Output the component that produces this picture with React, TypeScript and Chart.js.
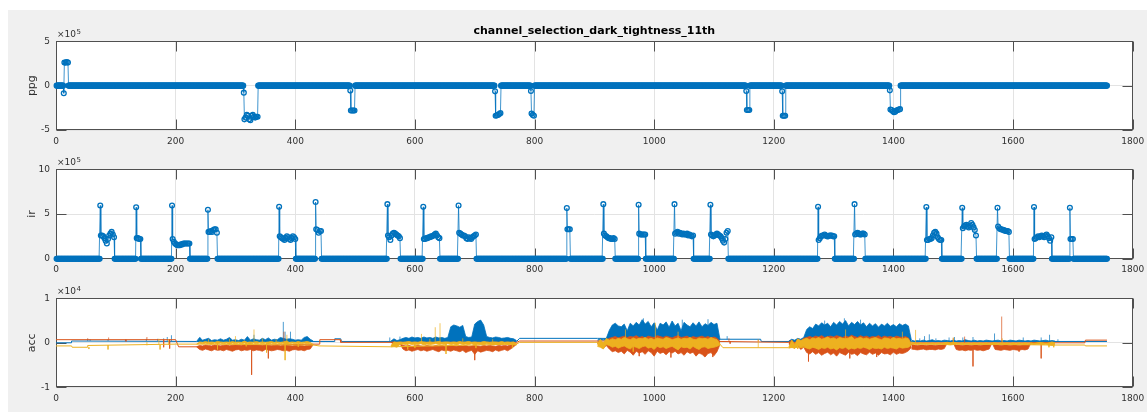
import React, { useEffect, useRef } from "react";
import { Chart, registerables } from "chart.js";

Chart.register(...registerables);

const BLUE = "#0072BD";
const RED = "#D95319";
const YELLOW = "#EDB120";
const AXIS = "#505050";
const GRID = "#e3e3e3";
const TEXT = "#303030";
const FONT = "'DejaVu Sans', 'Liberation Sans', sans-serif";

const TITLE = "channel_selection_dark_tightness_11th";
const xTicks = [0, 200, 400, 600, 800, 1000, 1200, 1400, 1600, 1800];
const ppgTicks = [-5, 0, 5];
const irTicks = [0, 5, 10];
const accTicks = [-1, 0, 1];
const N_SAMPLES = 1757;

// ---------- ppg (units of 1e5) : samples are 0 except these bursts ----------
const ppgSpikeX = [13, 314, 492, 734, 794, 1154, 1214, 1394];
const ppgSpikeY = [-0.86, -0.79, -0.56, -0.64, -0.6, -0.6, -0.64, -0.53];
const ppgBursts = [
  [2.6, 2.6, 2.65, 2.6],
  [-3.8, -3.6, -3.3, -3.4, -3.8, -3.9, -3.4, -3.3, -3.5, -3.6, -3.5, -3.5],
  [-2.8, -2.8, -2.8, -2.8],
  [-3.4, -3.35, -3.3, -3.2, -3.1],
  [-3.15, -3.3, -3.4],
  [-2.75, -2.75, -2.75],
  [-3.4, -3.4, -3.4],
  [-2.7, -2.75, -2.9, -3.0, -2.95, -2.8, -2.75, -2.7, -2.65],
];

// ---------- ir (units of 1e5) ----------
const irSpikeX = [74, 134, 194, 254, 373, 434, 554, 614, 673, 854, 915, 974, 1034, 1094, 1274, 1335, 1455, 1515, 1574, 1635, 1695];
const irSpikeY = [5.95, 5.75, 5.95, 5.47, 5.8, 6.34, 6.1, 5.8, 5.95, 5.66, 6.1, 6.03, 6.1, 6.03, 5.8, 6.1, 5.78, 5.7, 5.7, 5.78, 5.7];
const irBursts = [
  [2.6, 2.6, 2.5, 2.3, 2.0, 1.7, 2.2, 2.6, 2.8, 3.0, 2.7, 2.4],
  [2.3, 2.3, 2.2, 2.2],
  [2.2, 1.9, 1.7, 1.6, 1.5, 1.5, 1.5, 1.6, 1.6, 1.7, 1.7, 1.7, 1.7, 1.7, 1.7],
  [3.0, 3.0, 3.1, 3.0, 3.2, 3.3, 3.3, 2.9],
  [2.5, 2.4, 2.3, 2.2, 2.1, 2.3, 2.5, 2.4, 2.2, 2.1, 2.3, 2.5, 2.4, 2.2],
  [3.3, 3.2, 2.9, 3.1, 3.1],
  [2.6, 2.4, 2.1, 2.6, 2.8, 2.9, 2.8, 2.7, 2.6, 2.5, 2.3],
  [2.2, 2.2, 2.3, 2.3, 2.4, 2.4, 2.5, 2.5, 2.6, 2.7, 2.8, 2.6, 2.4, 2.3],
  [2.9, 2.8, 2.7, 2.6, 2.6, 2.5, 2.3, 2.2, 2.4, 2.3, 2.2, 2.4, 2.5, 2.6, 2.7],
  [3.3, 3.3, 3.3],
  [2.8, 2.6, 2.5, 2.4, 2.3, 2.3, 2.2, 2.2, 2.3, 2.2],
  [2.8, 2.7, 2.7, 2.7, 2.7, 2.7],
  [2.8, 2.9, 3.0, 2.8, 2.9, 2.8, 2.7, 2.8, 2.7, 2.7, 2.8, 2.6, 2.7, 2.6, 2.5, 2.6],
  [2.7, 2.6, 2.5, 2.6, 2.7, 2.8, 2.7, 2.6, 2.5, 2.3, 2.0, 1.8, 2.2, 2.9, 3.1],
  [2.1, 2.3, 2.5, 2.6, 2.6, 2.7, 2.6, 2.5, 2.5, 2.6, 2.6, 2.6, 2.5, 2.5],
  [2.7, 2.8, 2.9, 2.8, 2.7, 2.7, 2.8, 2.8, 2.7],
  [2.1, 2.1, 2.2, 2.2, 2.3, 2.6, 2.9, 3.0, 2.8, 2.4, 2.2, 2.1, 2.1],
  [3.4, 3.6, 3.7, 3.8, 3.6, 3.5, 3.7, 4.0, 3.8, 3.5, 3.2, 2.6],
  [3.6, 3.4, 3.3, 3.3, 3.2, 3.2, 3.1, 3.1, 3.1, 3.0],
  [2.2, 2.3, 2.4, 2.5, 2.4, 2.5, 2.6, 2.5, 2.4, 2.6, 2.7, 2.5, 2.3, 2.0, 2.4],
  [2.2, 2.2, 2.2],
];

// ---------- acc (units of 100 counts) ----------
const ACC_STEP = 5;
const accRegionStart = [235, 560, 905, 1225, 1430];

const blueLine = [[0, 0], [26, 0], [26, 4], [235, 3], [465, 3], [466, 9], [476, 9], [477, 3], [770, 3], [775, 10], [905, 10], [1110, 8], [1178, 8], [1179, 3], [1757, 3]];
const redLine = [[0, 7], [200, 7], [205, -9], [235, -9], [430, -3], [440, -3], [441, 7], [475, 7], [476, 1], [770, 1], [775, 4], [905, 4], [1110, 3], [1225, 1], [1430, 0], [1720, 0], [1721, 6], [1757, 6]];
const yellowLine = [[0, -7], [26, -7], [27, -10], [52, -10], [53, -6], [200, -3], [235, -3], [430, -5], [440, -7], [560, -9], [770, -3], [775, 1], [905, 1], [1110, -3], [1115, -11], [1225, -11], [1430, -2], [1670, -5], [1720, -5], [1721, -7], [1757, -7]];

const blueBandBase = [3, 3, 5, 3, 3];
const blueTop = [
  [3, 12, 6, 8, 10, 5, 7, 6, 9, 6, 8, 12, 6, 7, 5, 8, 6, 14, 6, 9, 7, 6, 10, 7, 11, 6, 8, 7, 12, 10, 8, 9, 8, 6, 7, 6, 12, 14, 8, 4],
  [4, 9, 5, 7, 10, 12, 10, 13, 11, 12, 10, 13, 11, 12, 10, 13, 11, 12, 10, 12, 36, 40, 38, 35, 39, 14, 12, 13, 42, 48, 51, 40, 14, 12, 11, 13, 12, 10, 11, 12, 10, 9, 5],
  [6, 9, 7, 10, 28, 40, 44, 38, 36, 42, 27, 44, 38, 46, 40, 52, 42, 48, 36, 45, 28, 44, 40, 47, 35, 49, 38, 44, 27, 46, 40, 36, 45, 38, 47, 36, 43, 39, 46, 41, 44, 8],
  [4, 8, 6, 10, 8, 12, 30, 36, 32, 42, 38, 45, 40, 44, 36, 46, 40, 48, 42, 50, 38, 46, 41, 48, 40, 45, 36, 44, 38, 43, 35, 42, 38, 44, 37, 41, 36, 43, 39, 42, 38, 6],
  [6, 4, 5, 4, 6, 4, 5, 7, 4, 5, 4, 6, 5, 4, 6, 4, 5, 4, 7, 5, 4, 6, 4, 5, 4, 6, 5, 4, 5, 6, 4, 5, 4, 6, 5, 4, 6, 5, 4, 5, 4, 6, 5, 4, 5, 6, 4, 5, 4],
];
const redTop = [
  [-9, -6, -7, -5, -6, -7, -5, -6, -7, -6, -5, -7, -6, -5, -6, -7, -5, -6, -7, -6, -5, -6, -7, -5, -6, -7, -6, -5, -7, -6, -5, -6, -7, -6, -5, -6, -7, -6, -5, -3],
  [1, 2, -2, 1, -6, -7, -6, -8, -7, -6, -7, -8, -6, -7, -8, -6, -7, -6, -8, -7, -6, -7, -8, -6, -7, -6, -8, -7, -6, -7, -8, -6, -7, -6, -7, -8, -6, -7, -6, -7, -5, -4, -2],
  [2, 5, -3, 6, 10, 12, 14, 11, 13, 15, 12, 14, 13, 16, 12, 14, 11, 15, 13, 12, 16, 14, 12, 15, 13, 11, 14, 16, 12, 13, 15, 11, 14, 12, 13, 15, 12, 14, 11, 13, 10, 3],
  [1, 6, -2, 8, 4, 10, 12, 14, 12, 15, 13, 16, 12, 14, 15, 13, 16, 14, 12, 15, 13, 17, 14, 12, 16, 13, 15, 12, 14, 13, 16, 12, 15, 13, 14, 12, 15, 13, 12, 14, 11, -4],
  [-4, -5, -6, -5, -5, -6, -5, -5, -6, -5, -5, -5, 1, 0, 1, -5, -5, -6, -5, -5, -6, -5, -5, -6, -5, -5, -5, 0, -5, -5, -6, -5, -5, -6, -5, -5, -6, -5, -5, -5, 1, 0, 1, 0, 1, 0, 1, 0, 1],
];
const redBottom = [
  [-9, -15, -17, -14, -16, -18, -15, -17, -16, -18, -15, -17, -19, -16, -15, -18, -16, -17, -15, -18, -16, -17, -19, -15, -16, -18, -17, -15, -16, -18, -17, -19, -16, -15, -17, -16, -18, -15, -14, -4],
  [1, -4, -8, -2, -14, -18, -16, -19, -17, -15, -18, -16, -19, -17, -15, -18, -20, -16, -18, -17, -19, -16, -18, -20, -17, -22, -19, -17, -26, -18, -21, -19, -17, -18, -20, -16, -19, -17, -15, -18, -14, -9, -3],
  [-2, -8, -12, -6, -14, -20, -18, -22, -19, -25, -17, -21, -28, -19, -23, -20, -26, -18, -22, -30, -19, -24, -21, -27, -20, -23, -19, -25, -22, -28, -20, -24, -21, -30, -23, -26, -32, -24, -22, -29, -20, -4],
  [-3, -8, -12, -6, -15, -10, -22, -25, -20, -26, -22, -28, -24, -21, -27, -23, -30, -22, -25, -28, -21, -26, -24, -29, -22, -25, -27, -21, -26, -23, -28, -22, -25, -24, -27, -21, -26, -23, -24, -22, -18, -10],
  [-14, -15, -16, -15, -14, -16, -15, -15, -16, -14, -15, -13, 0, -1, 0, -15, -17, -16, -18, -16, -17, -15, -17, -16, -18, -16, -14, 0, -15, -16, -17, -15, -16, -17, -15, -16, -17, -15, -16, -14, 0, -1, 0, -1, 0, -1, 0, -1, 0],
];
const yellowTop = [
  [-3, 2, 1, 3, 1, 2, 1, 3, 2, 1, 2, 1, 3, 1, 2, 1, 4, 1, 2, 1, 3, 1, 2, 1, 2, 3, 1, 2, 1, 2, 4, 1, 2, 1, 3, 1, 2, 3, 1, -4],
  [-6, 2, 1, 2, 1, 2, 3, 1, 2, 1, 3, 2, 1, 2, 1, 2, 3, 1, 2, 2, 1, 2, 1, 3, 1, 2, 3, 1, 2, 1, 1, 3, 2, 1, 2, 2, 1, 3, 1, 2, 1, 2, -3],
  [-3, 8, -2, 10, 6, 9, 7, 10, 8, 12, 9, 7, 11, 8, 10, 9, 12, 8, 10, 7, 11, 9, 8, 12, 10, 7, 9, 11, 8, 10, 9, 12, 8, 7, 11, 9, 10, 8, 12, 9, 7, -2],
  [-10, 6, -4, 9, 5, 8, 10, 7, 11, 9, 12, 8, 10, 13, 9, 11, 8, 12, 10, 9, 11, 14, 8, 10, 12, 9, 11, 8, 10, 12, 9, 7, 11, 10, 8, 12, 9, 10, 8, 11, 9, -3],
  [2, 0, -1, 0, -1, 0, -1, 0, -1, 0, -1, 0, 1, 0, 1, 0, -1, 0, -1, 0, -1, 0, -1, 0, -1, 0, -1, 0, 0, -1, 0, -1, 0, -1, 0, -1, 0, -1, 0, -1, 0, -1, 0, 1, 0, -1, 0, 2, 0],
];
const yellowBottom = [
  [-3, -1, -2, -1, -2, -3, -1, -2, -1, -2, -1, -3, -1, -2, -1, -2, -1, -2, -3, -1, -2, -1, -2, -1, -3, -1, -2, -1, -2, -1, -3, -2, -1, -2, -1, -2, -1, -2, -1, -5],
  [-9, -8, -10, -4, -3, -4, -2, -4, -3, -4, -2, -5, -3, -4, -3, -2, -4, -3, -4, -2, -4, -3, -5, -2, -4, -3, -4, -2, -5, -3, -4, -4, -2, -3, -5, -4, -3, -4, -2, -4, -3, -5, -5],
  [-8, -10, -14, -4, -6, -10, -8, -12, -9, -7, -11, -14, -8, -10, -13, -9, -7, -12, -10, -15, -8, -11, -9, -13, -10, -8, -12, -16, -9, -11, -10, -14, -8, -12, -15, -10, -9, -13, -11, -10, -8, -5],
  [-12, -10, -13, -6, -10, -8, -12, -14, -10, -12, -15, -11, -13, -10, -14, -12, -16, -11, -13, -10, -15, -12, -14, -11, -13, -10, -12, -15, -11, -13, -12, -14, -10, -13, -11, -12, -14, -10, -12, -11, -10, -5],
  [-3, -3, -4, -3, -3, -4, -3, -3, -4, -3, -3, -4, -4, -5, -4, -3, -3, -4, -3, -3, -4, -3, -3, -4, -3, -3, -4, -3, -3, -4, -3, -3, -4, -3, -3, -4, -3, -3, -4, -3, -3, -4, -3, -3, -4, -3, -5, -6, -5],
];
// [x, from, to]
const blueSpikes = [[53, 4, 9], [57, 4, 8], [87, 4, 8], [116, 4, 7], [151, 4, 9], [170, 4, 9], [180, 4, 10], [186, 4, 13], [193, 4, 17], [241, 3, 12], [331, 3, 18], [380, 3, 47], [383, 3, 25], [392, 3, 25], [558, 3, 12], [575, 3, 14], [982, 5, 55], [1047, 5, 52], [1090, 5, 53], [1122, 8, 15], [1285, 5, 50], [1318, 5, 55], [1345, 5, 52], [1444, 3, 10], [1452, 3, 15], [1460, 3, 19], [1471, 3, 10], [1493, 3, 12], [1502, 3, 13], [1516, 3, 12], [1533, 3, 13], [1569, 3, 21], [1617, 3, 12], [1647, 3, 12], [1661, 3, 18], [1675, 3, 8]];
const redSpikes = [[53, 7, 10], [88, 7, 12], [117, 7, 3], [152, 7, 13], [180, 7, -10], [190, 7, -13], [327, -12, -72], [355, -15, -35], [381, -8, 25], [700, -20, -39], [975, -10, -30], [1028, -10, -33], [1098, -10, -32], [1125, 4, 10], [1127, 4, -2], [1174, 3, 7], [1258, -10, -42], [1327, -10, -35], [1372, -10, -32], [1500, 0, 11], [1519, 0, 14], [1533, -15, -53], [1581, 0, 59], [1610, -10, -20], [1647, 0, -35]];
const yellowSpikes = [[55, -10, -14], [87, -5, -15], [152, -6, 2], [172, -5, 9], [174, -5, -15], [188, -5, 8], [255, 0, 8], [270, 0, -15], [290, 0, 9], [300, 0, 15], [318, 0, -8], [331, 0, 30], [345, 0, 10], [352, 0, -22], [368, 0, 8], [383, 0, -39], [386, 0, 18], [405, 0, -9], [588, 0, -15], [600, 0, -12], [611, 0, 20], [625, 0, 9], [634, 0, 35], [642, 0, 44], [652, 0, -25], [680, 0, 10], [702, 0, -12], [730, 0, 8], [763, 0, -12], [952, 0, 30], [965, 0, -20], [1002, 0, 45], [1040, 0, 25], [1174, -11, 7], [1240, 0, -14], [1320, 0, 30], [1415, 0, 25], [1437, 0, 29], [1500, -2, 12], [1582, -2, 10], [1660, -2, -10], [1668, -5, -10]];

// ---------- builders ----------
function buildBurstSeries(spX: number[], spY: number[], bursts: number[][]) {
  const pts: { x: number; y: number }[] = [];
  let x = 1;
  for (let k = 0; k < spX.length; k++) {
    for (; x < spX[k]; x++) pts.push({ x, y: 0 });
    pts.push({ x: spX[k], y: spY[k] });
    bursts[k].forEach((v, i) => pts.push({ x: spX[k] + 1 + 2 * i, y: v }));
    x = spX[k] + 2 * bursts[k].length;
  }
  for (; x <= N_SAMPLES; x++) pts.push({ x, y: 0 });
  return pts;
}

function markerDataset(data: any[]) {
  return {
    data,
    borderColor: "rgba(0,114,189,0.75)",
    borderWidth: 1,
    pointRadius: 2.4,
    pointBorderWidth: 1.3,
    pointBorderColor: BLUE,
    pointBackgroundColor: "rgba(255,255,255,0)",
    fill: false,
    clip: false,
  };
}

function rgba(hex: string, a: number) {
  const n = parseInt(hex.slice(1), 16);
  return `rgba(${(n >> 16) & 255},${(n >> 8) & 255},${n & 255},${a})`;
}

function buildAccDatasets() {
  const ds: any[] = [];
  const regionPts = (r: number, vals: number[]) =>
    vals.map((v, i) => ({ x: accRegionStart[r] + i * ACC_STEP, y: v / 100 }));
  const addChannel = (color: string, line: number[][], spikes: number[][], top: number[][], bottom: number[][] | null, base: number[] | null) => {
    ds.push({ data: line.map(([x, y]) => ({ x, y: y / 100 })), borderColor: color, borderWidth: 1, pointRadius: 0, fill: false });
    top.forEach((t, r) => {
      const ti = ds.length;
      if (bottom) {
        ds.push({ data: regionPts(r, t), borderColor: color, borderWidth: 0.8, pointRadius: 0, fill: false });
        ds.push({ data: regionPts(r, bottom[r]), borderColor: color, borderWidth: 0.8, pointRadius: 0, fill: ti, backgroundColor: color });
      } else if (base) {
        ds.push({ data: regionPts(r, t), borderColor: color, borderWidth: 0.8, pointRadius: 0, fill: { value: base[r] / 100 }, backgroundColor: color });
      }
    });
    const sp: any[] = [];
    spikes.forEach(([x, a, b]) => {
      sp.push({ x, y: a / 100 }, { x, y: b / 100 }, { x, y: null });
    });
    ds.push({ data: sp, borderColor: rgba(color, 0.7), borderWidth: 1, pointRadius: 0, fill: false, spanGaps: false });
  };
  addChannel(YELLOW, yellowLine, yellowSpikes, yellowTop, yellowBottom, null);
  addChannel(RED, redLine, redSpikes, redTop, redBottom, null);
  addChannel(BLUE, blueLine, blueSpikes, blueTop, null, blueBandBase);
  return ds;
}

// ---------- axes decoration plugin ----------
const TICK_LEN = 10;
const matlabAxes = {
  id: "matlabAxes",
  beforeDraw(chart: any) {
    const { ctx, chartArea: a } = chart;
    ctx.save();
    ctx.fillStyle = "#ffffff";
    ctx.fillRect(a.left, a.top, a.right - a.left, a.bottom - a.top);
    ctx.restore();
  },
  beforeDatasetsDraw(chart: any, _args: any, opts: any) {
    const { ctx, chartArea: a, scales } = chart;
    ctx.save();
    ctx.strokeStyle = AXIS;
    ctx.lineWidth = 1;
    const L = Math.round(a.left) + 0.5, R = Math.round(a.right) - 0.5;
    const T = Math.round(a.top) + 0.5, B = Math.round(a.bottom) - 0.5;
    ctx.strokeRect(L, T, R - L, B - T);
    ctx.beginPath();
    xTicks.forEach((v) => {
      const px = Math.round(scales.x.getPixelForValue(v)) + 0.5;
      ctx.moveTo(px, B); ctx.lineTo(px, B - TICK_LEN);
      ctx.moveTo(px, T); ctx.lineTo(px, T + TICK_LEN);
    });
    (opts.yTicks || []).forEach((v: number) => {
      const py = Math.round(scales.y.getPixelForValue(v)) + 0.5;
      ctx.moveTo(L, py); ctx.lineTo(L + TICK_LEN, py);
      ctx.moveTo(R, py); ctx.lineTo(R - TICK_LEN, py);
    });
    ctx.stroke();
    ctx.restore();
  },
  afterDraw(chart: any, _args: any, opts: any) {
    const { ctx, chartArea: a } = chart;
    ctx.save();
    ctx.fillStyle = TEXT;
    ctx.textBaseline = "alphabetic";
    ctx.textAlign = "left";
    ctx.font = `9px ${FONT}`;
    const base = "\u00d710";
    ctx.fillText(base, a.left + 1, a.top - 4);
    const w = ctx.measureText(base).width;
    ctx.font = `7px ${FONT}`;
    ctx.fillText(opts.exponent, a.left + 1 + w + 0.5, a.top - 7.5);
    if (opts.title) {
      ctx.font = `bold 11px ${FONT}`;
      ctx.textAlign = "center";
      ctx.textBaseline = "middle";
      ctx.fillStyle = "#000000";
      ctx.fillText(opts.title, (a.left + a.right) / 2, a.top - 10);
    }
    ctx.restore();
  },
};

interface PlotDef {
  padTop: number;
  axisH: number;
  yMin: number;
  yMax: number;
  yTicks: number[];
  yLabel: string;
  exponent: string;
  title?: string;
  datasets: any[];
}

function makeConfig(def: PlotDef): any {
  return {
    type: "line",
    data: { datasets: def.datasets },
    options: {
      responsive: false,
      animation: false,
      devicePixelRatio: 1,
      events: [],
      layout: { autoPadding: false, padding: { top: def.padTop, right: 14.3, left: 0, bottom: 0 } },
      plugins: {
        legend: { display: false },
        tooltip: { enabled: false },
        matlabAxes: { exponent: def.exponent, title: def.title, yTicks: def.yTicks },
      },
      scales: {
        x: {
          type: "linear",
          min: 0,
          max: 1800,
          afterBuildTicks: (s: any) => { s.ticks = xTicks.map((v) => ({ value: v })); },
          ticks: { callback: (v: any) => String(v), font: { family: FONT, size: 9 }, color: TEXT, padding: 6, maxRotation: 0, autoSkip: false },
          grid: { color: GRID, drawTicks: false, lineWidth: 1 },
          border: { display: false },
          afterFit: (s: any) => { s.height = def.axisH; s.paddingLeft = 0; s.paddingRight = 0; },
        },
        y: {
          type: "linear",
          min: def.yMin,
          max: def.yMax,
          afterBuildTicks: (s: any) => { s.ticks = def.yTicks.map((v) => ({ value: v })); },
          ticks: { callback: (v: any) => String(v), font: { family: FONT, size: 9 }, color: TEXT, padding: 6, autoSkip: false },
          grid: { color: GRID, drawTicks: false, lineWidth: 1 },
          border: { display: false },
          title: { display: true, text: def.yLabel, font: { family: FONT, size: 11 }, color: TEXT, padding: { top: 18, bottom: 0 } },
          afterFit: (s: any) => { s.width = 48; s.paddingTop = 0; s.paddingBottom = 0; },
        },
      },
    },
    plugins: [matlabAxes],
  };
}

export default function App() {
  const r1 = useRef<HTMLCanvasElement>(null);
  const r2 = useRef<HTMLCanvasElement>(null);
  const r3 = useRef<HTMLCanvasElement>(null);

  useEffect(() => {
    const ppgDef: PlotDef = {
      padTop: 31.3, axisH: 20, yMin: -5, yMax: 5, yTicks: ppgTicks, yLabel: "ppg", exponent: "5", title: TITLE,
      datasets: [markerDataset(buildBurstSeries(ppgSpikeX, ppgSpikeY, ppgBursts))],
    };
    const irDef: PlotDef = {
      padTop: 19.3, axisH: 19.3, yMin: 0, yMax: 10, yTicks: irTicks, yLabel: "ir", exponent: "5",
      datasets: [markerDataset(buildBurstSeries(irSpikeX, irSpikeY, irBursts))],
    };
    const accDef: PlotDef = {
      padTop: 20.3, axisH: 24.7, yMin: -1, yMax: 1, yTicks: accTicks, yLabel: "acc", exponent: "4",
      datasets: buildAccDatasets(),
    };
    const charts = [
      new Chart(r1.current as HTMLCanvasElement, makeConfig(ppgDef)),
      new Chart(r2.current as HTMLCanvasElement, makeConfig(irDef)),
      new Chart(r3.current as HTMLCanvasElement, makeConfig(accDef)),
    ];
    return () => charts.forEach((c) => c.destroy());
  }, []);

  const cs = (top: number, h: number): React.CSSProperties => ({ position: "absolute", left: 0, top, width: 1139, height: h });
  return (
    <div style={{ position: "absolute", left: 8, top: 10, width: 1139, height: 402, background: "#f0f0f0", overflow: "hidden" }}>
      <canvas ref={r1} width={1139} height={140} style={cs(0, 140)} />
      <canvas ref={r2} width={1139} height={128} style={cs(140, 128)} />
      <canvas ref={r3} width={1139} height={134} style={cs(268, 134)} />
    </div>
  );
}
